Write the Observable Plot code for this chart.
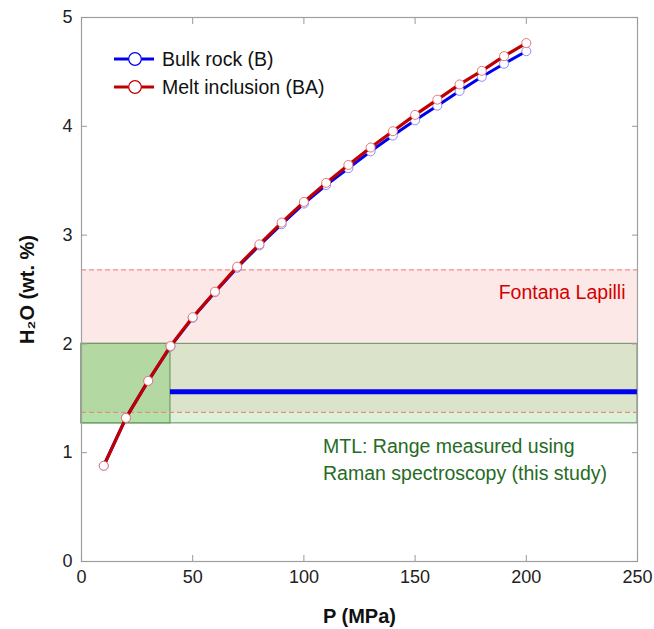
<!DOCTYPE html>
<html><head><meta charset="utf-8">
<script src="https://cdn.jsdelivr.net/npm/d3@7"></script>
<script src="https://cdn.jsdelivr.net/npm/@observablehq/plot@0.6"></script>
<style>
body{margin:0;background:#fff;font-family:"Liberation Sans",Arial,sans-serif;}
#wrap{position:relative;width:654px;height:629px;}
.lg{position:absolute;left:113px;display:flex;align-items:center;height:28px;font-size:19.5px;color:#111;white-space:nowrap;}
.lg svg{margin-right:7px;}
</style></head><body><div id="wrap"></div>
<script>
const pressure = [10,20,30,40,50,60,70,80,90,100,110,120,130,140,150,160,170,180,190,200];
const bulkRock = [0.88,1.32,1.66,1.975,2.24,2.475,2.70,2.905,3.10,3.29,3.46,3.615,3.77,3.915,4.055,4.19,4.325,4.455,4.575,4.69];
const meltInclusion = [0.88,1.32,1.66,1.98,2.245,2.48,2.71,2.915,3.115,3.305,3.48,3.645,3.805,3.955,4.105,4.245,4.385,4.51,4.645,4.765];
const xTicks = [0,50,100,150,200,250];
const yTicks = [0,1,2,3,4,5];
const seriesNames = ["Bulk rock (B)", "Melt inclusion (BA)"];
const seriesColors = ["#0000f0", "#c00000"];
const markerStrokes = ["#8a8aff", "#e87878"];
const fontanaRange = [1.37, 2.68];
const mtlRange = [1.27, 2.0];
const mtlPressure = [0, 40];
const bulkRockMTL = 1.56;
const bulkRockMTLPressure = [40, 250];
const fontanaLabel = "Fontana Lapilli";
const mtlLabel = "MTL: Range measured using\nRaman spectroscopy (this study)";

const bulk = pressure.map((p, i) => ({p, h: bulkRock[i]}));
const melt = pressure.map((p, i) => ({p, h: meltInclusion[i]}));

const font = "Liberation Sans, Arial, sans-serif";
const chart = Plot.plot({
  width: 654, height: 629,
  marginLeft: 81, marginRight: 17, marginTop: 17, marginBottom: 68,
  style: {fontFamily: font, fontSize: "18px", color: "#222", background: "#fff"},
  x: {domain: [0, 250], label: null},
  y: {domain: [0, 5], label: null},
  marks: [
    Plot.rect([fontanaRange], {x1: 0, x2: 250, y1: d => d[0], y2: d => d[1], fill: "#fde8e8"}),
    Plot.ruleY([fontanaRange[1]], {stroke: "#f08c8c", strokeWidth: 1.2, strokeDasharray: "5,3"}),
    Plot.rect([mtlRange], {x1: 0, x2: 250, y1: d => d[0], y2: d => d[1], fill: "#a3dd98", fillOpacity: 0.38, stroke: "#7a9c70", strokeWidth: 1.2}),
    Plot.rect([mtlRange], {x1: mtlPressure[0], x2: mtlPressure[1], y1: d => d[0], y2: d => d[1], fill: "#83ca70", fillOpacity: 0.45, stroke: "#6f9a66", strokeWidth: 1.2}),
    Plot.ruleY([fontanaRange[0]], {stroke: "#ec8a8a", strokeWidth: 1.2, strokeDasharray: "5,3"}),
    Plot.ruleY([bulkRockMTL], {x1: bulkRockMTLPressure[0], x2: bulkRockMTLPressure[1], stroke: seriesColors[0], strokeWidth: 5}),
    Plot.line(bulk, {x: "p", y: "h", stroke: seriesColors[0], strokeWidth: 3}),
    Plot.dot(bulk, {x: "p", y: "h", r: 4.5, fill: "#fff", stroke: markerStrokes[0], strokeWidth: 1}),
    Plot.line(melt, {x: "p", y: "h", stroke: seriesColors[1], strokeWidth: 3.2}),
    Plot.dot(melt, {x: "p", y: "h", r: 4.5, fill: "#fff", stroke: markerStrokes[1], strokeWidth: 1}),
    Plot.text([fontanaLabel], {x: 244.6, y: 2.467, text: d => d, textAnchor: "end", fill: "#d40000", fontSize: 19.5}),
    Plot.text([mtlLabel], {x: 108.6, y: 0.955, text: d => d, textAnchor: "start", lineAnchor: "middle", lineHeight: 1.43, fill: "#256b25", fontSize: 19.5}),
    Plot.frame({stroke: "#a0a0a0", strokeWidth: 1.2}),
    Plot.axisX(xTicks, {anchor: "bottom", tickSize: -6, tickPadding: 15, stroke: "#999", fill: "#222", tickFormat: d => String(d), label: null}),
    Plot.axisX(xTicks, {anchor: "top", tickSize: -6, stroke: "#999", tickFormat: () => "", label: null}),
    Plot.axisY(yTicks, {anchor: "left", tickSize: -6, tickPadding: 15, stroke: "#999", fill: "#222", tickFormat: d => String(d), label: null}),
    Plot.axisY(yTicks, {anchor: "right", tickSize: -6, stroke: "#999", tickFormat: () => "", label: null}),
    Plot.text(["P (MPa)"], {frameAnchor: "bottom", dy: 55, lineAnchor: "middle", textAnchor: "middle", text: d => d, fontWeight: "bold", fontSize: 20, fill: "#111"}),
    Plot.text(["H₂O (wt. %)"], {frameAnchor: "left", dx: -54, rotate: -90, textAnchor: "middle", lineAnchor: "middle", text: d => d, fontWeight: "bold", fontSize: 20, fill: "#111"})
  ]
});
const wrap = document.getElementById("wrap");
wrap.appendChild(chart);
seriesNames.forEach((name, i) => {
  const row = document.createElement("div");
  row.className = "lg";
  row.style.top = (45 + i * 28) + "px";
  row.innerHTML = `<svg width="42" height="16"><line x1="1" y1="8" x2="41" y2="8" stroke="${seriesColors[i]}" stroke-width="3"/><circle cx="22" cy="8" r="6.3" fill="#fff" stroke="${seriesColors[i]}" stroke-width="1.2"/></svg><span>${name}</span>`;
  wrap.appendChild(row);
});
</script></body></html>
